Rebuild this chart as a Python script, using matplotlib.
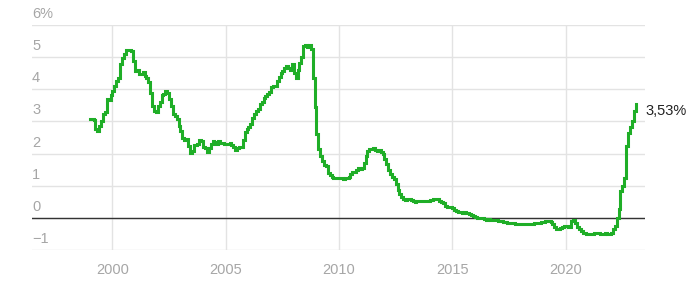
import matplotlib
matplotlib.use("Agg")
import matplotlib.pyplot as plt
import matplotlib.transforms as mtransforms
import numpy as np

# 12-month Euribor, monthly averages (%), Jan 1999 .. Feb 2023
rates_1999_2004 = [
    3.09, 3.07, 3.05, 2.77, 2.70, 2.85, 3.02, 3.24, 3.30, 3.69, 3.67, 3.83,
    3.95, 4.11, 4.26, 4.35, 4.78, 4.96, 5.10, 5.22, 5.22, 5.22, 5.19, 4.88,
    4.57, 4.59, 4.47, 4.48, 4.53, 4.40, 4.36, 4.23, 3.89, 3.47, 3.34, 3.30,
    3.48, 3.59, 3.82, 3.86, 3.96, 3.87, 3.70, 3.47, 3.24, 3.17, 3.09, 2.87,
    2.71, 2.50, 2.41, 2.45, 2.25, 2.01, 2.08, 2.28, 2.26, 2.29, 2.41, 2.38,
    2.22, 2.16, 2.06, 2.16, 2.30, 2.40, 2.36, 2.30, 2.38, 2.32, 2.33, 2.30,
]
rates_2005_2010 = [
    2.31, 2.31, 2.34, 2.27, 2.19, 2.10, 2.17, 2.22, 2.22, 2.41, 2.68, 2.78,
    2.83, 2.91, 3.11, 3.22, 3.31, 3.40, 3.54, 3.62, 3.72, 3.80, 3.86, 3.92,
    4.06, 4.09, 4.11, 4.25, 4.37, 4.51, 4.56, 4.67, 4.73, 4.65, 4.61, 4.79,
    4.50, 4.35, 4.59, 4.82, 4.99, 5.36, 5.39, 5.32, 5.38, 5.25, 4.35, 3.45,
    2.62, 2.14, 1.91, 1.77, 1.64, 1.61, 1.41, 1.33, 1.26, 1.24, 1.23, 1.24,
    1.23, 1.23, 1.22, 1.23, 1.25, 1.28, 1.37, 1.42, 1.42, 1.50, 1.54, 1.53,
]
rates_2011_2016 = [
    1.55, 1.71, 1.92, 2.09, 2.15, 2.14, 2.18, 2.10, 2.07, 2.11, 2.04, 2.00,
    1.84, 1.68, 1.50, 1.37, 1.27, 1.22, 1.06, 0.88, 0.74, 0.65, 0.59, 0.55,
    0.58, 0.59, 0.55, 0.53, 0.48, 0.51, 0.53, 0.54, 0.54, 0.54, 0.51, 0.54,
    0.56, 0.55, 0.58, 0.60, 0.59, 0.51, 0.49, 0.47, 0.36, 0.34, 0.34, 0.33,
    0.30, 0.26, 0.21, 0.18, 0.17, 0.16, 0.17, 0.16, 0.15, 0.13, 0.08, 0.06,
    0.04, -0.01, -0.01, -0.01, -0.01, -0.03, -0.06, -0.05, -0.06, -0.07, -0.07, -0.08,
]
rates_2017_2023 = [
    -0.10, -0.11, -0.11, -0.12, -0.13, -0.15, -0.15, -0.16, -0.17, -0.18, -0.19, -0.19,
    -0.19, -0.19, -0.19, -0.19, -0.19, -0.18, -0.18, -0.17, -0.17, -0.15, -0.15, -0.13,
    -0.12, -0.11, -0.11, -0.11, -0.13, -0.19, -0.28, -0.36, -0.34, -0.30, -0.27, -0.26,
    -0.25, -0.29, -0.27, -0.11, -0.08, -0.15, -0.28, -0.36, -0.42, -0.47, -0.48, -0.50,
    -0.51, -0.50, -0.49, -0.48, -0.48, -0.48, -0.49, -0.50, -0.49, -0.48, -0.49, -0.50,
    -0.48, -0.34, -0.24, 0.01, 0.29, 0.85, 0.99, 1.25, 2.23, 2.63, 2.83, 3.02,
    3.34, 3.53,
]
start_year = 1999
y_ticks = [-1, 0, 1, 2, 3, 4, 5, 6]
x_ticks = [2000, 2005, 2010, 2015, 2020]
end_label = "3,53%"

rates = np.array(rates_1999_2004 + rates_2005_2010 + rates_2011_2016 + rates_2017_2023)
t = start_year + np.arange(len(rates)) / 12.0

GREEN = "#1fae27"
GRID = "#e3e3e3"
TICK = "#a6a6a6"
plt.rcParams["font.family"] = ["Liberation Sans", "DejaVu Sans"]

fig = plt.figure(figsize=(6.99, 2.93), dpi=100)
ax = fig.add_axes([32 / 699, 43 / 293, 613 / 699, 225 / 293])
ax.set_xlim(1996.45, 2023.5)
ax.set_ylim(-1, 6)

for s in ax.spines.values():
    s.set_visible(False)
ax.set_xticks(x_ticks)
ax.set_xticklabels([str(x) for x in x_ticks])
ax.set_yticks(y_ticks)
ax.set_yticklabels([])
ax.tick_params(length=0, colors=TICK, labelsize=10.5)
ax.tick_params(axis="x", pad=9)
ax.grid(True, color=GRID, lw=1)
ax.axhline(0, color="#333333", lw=1, zorder=2)

# y labels sit above their gridlines, left aligned
off = mtransforms.offset_copy(ax.get_yaxis_transform(), fig=fig, x=0, y=4, units="dots")
for v in y_ticks:
    txt = "6%" if v == 6 else ("\u2212" + str(-v) if v < 0 else str(v))
    ax.text(0, v, txt, transform=off, ha="left", va="bottom",
            color=TICK, fontsize=10.5)

ax.plot(t, rates, drawstyle="steps-post", color=GREEN, lw=2.2,
        solid_joinstyle="miter", zorder=3)

ax.annotate(end_label, xy=(1.0, 3.34), xycoords=("axes fraction", "data"),
            xytext=(0, 0), textcoords="offset points", ha="left", va="center",
            color="#222222", fontsize=10.5, annotation_clip=False)

fig.savefig("out.png", dpi=100)
